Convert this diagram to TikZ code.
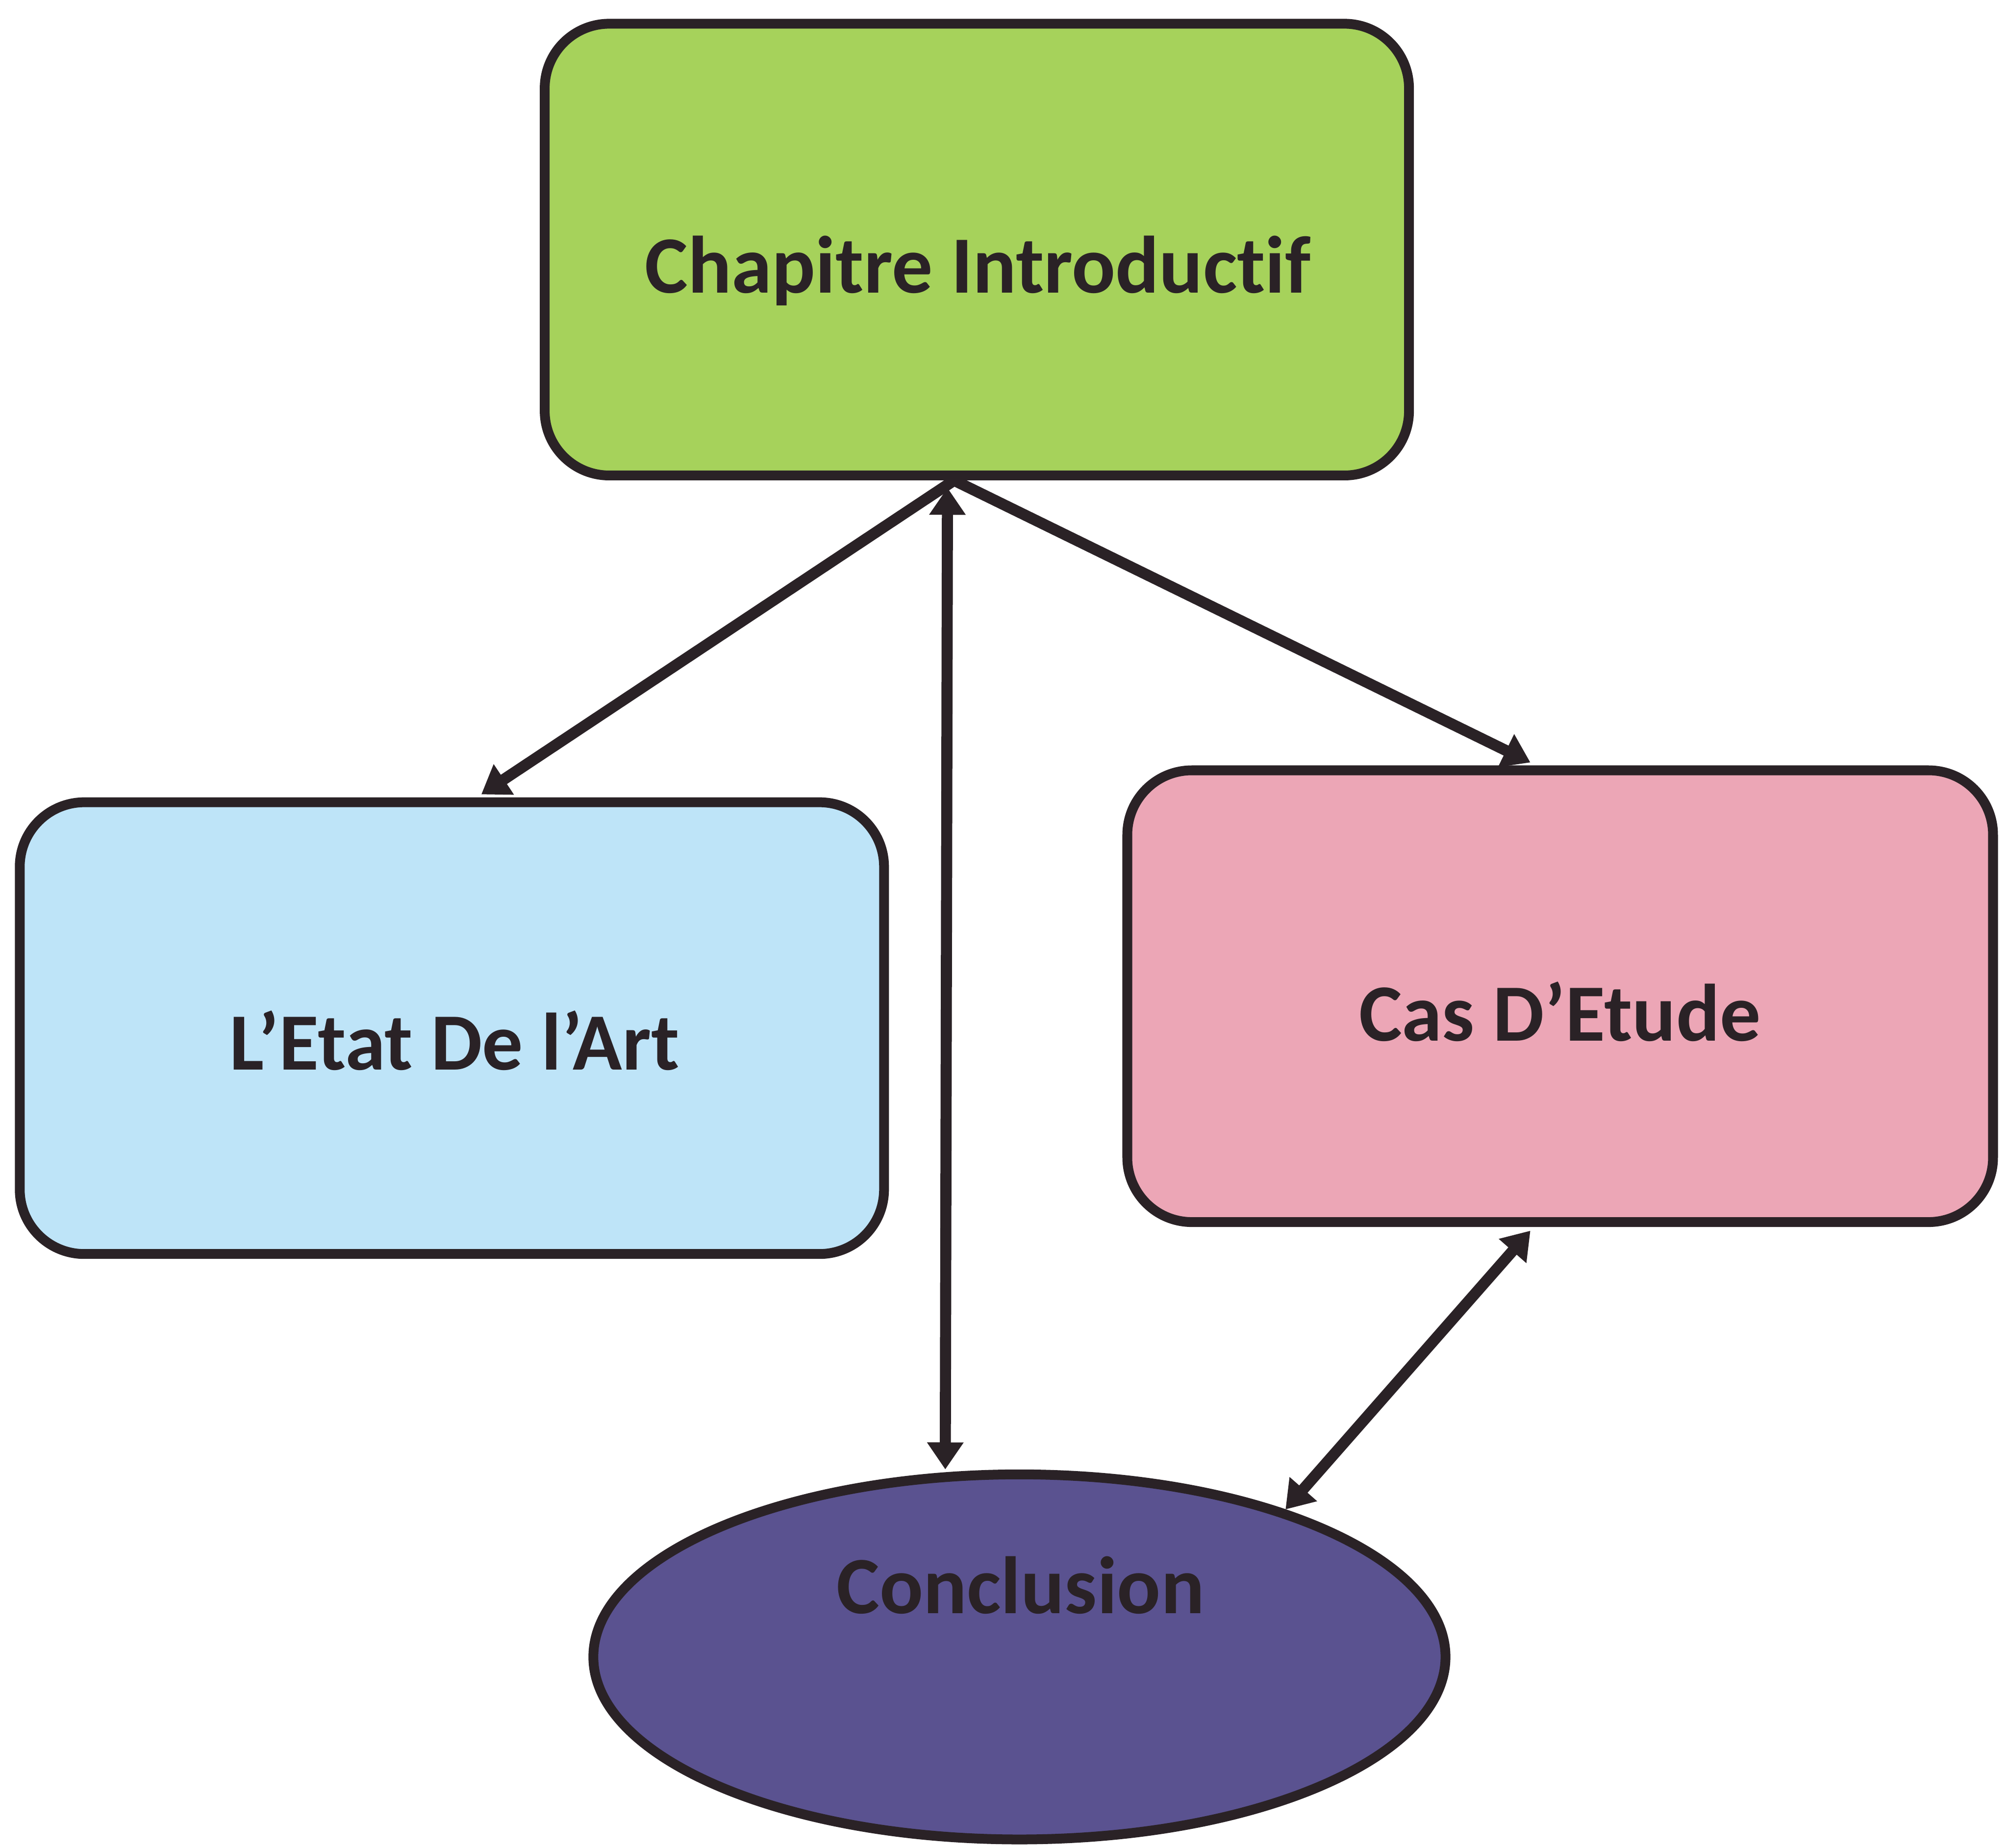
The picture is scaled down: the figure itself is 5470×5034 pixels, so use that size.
\documentclass[tikz,border=0pt]{standalone}
\usepackage{fontspec}
\setmainfont{Carlito}[Ligatures={NoCommon}]
\usetikzlibrary{shapes.geometric,arrows.meta,calc}
\pgfdeclarelayer{canvasbg}
\pgfdeclarelayer{background}
\pgfsetlayers{canvasbg,background,main}
\definecolor{cgreen}{HTML}{A6D25B}
\definecolor{cblue}{HTML}{BEE4F8}
\definecolor{cpink}{HTML}{ECA6B6}
\definecolor{cpurple}{HTML}{5A5290}
\definecolor{cline}{HTML}{2A2226}
\begin{document}
\begin{tikzpicture}[x=0.01cm,y=-0.01cm,
  box/.style={draw=cline, line width=7.6pt, rounded corners=50pt, inner sep=0pt},
  lbl/.style={font=\fontsize{63}{70}\selectfont\bfseries, text=cline, inner sep=0pt, anchor=base},
  conn/.style={draw=cline, line width=8.6pt, -{Triangle[length=21pt,width=27pt]}},
  dconn/.style={draw=cline, line width=8.6pt, {Triangle[length=21pt,width=27pt]}-{Triangle[length=21pt,width=27pt]}}]
\begin{pgfonlayer}{canvasbg}
\fill[white] (0,0) rectangle (5470,5034);
\end{pgfonlayer}
\useasboundingbox (0,0) rectangle (5470,5034);
% shapes
\node[box, fill=cgreen, minimum width=23.53cm, minimum height=12.30cm] (intro) at (2661,680) {};
\node[box, fill=cblue, minimum width=23.53cm, minimum height=12.30cm] (art) at (1231,2801) {};
\node[box, fill=cpink, minimum width=23.57cm, minimum height=12.30cm] (cas) at (4250,2714) {};
\node[ellipse, draw=cline, line width=7.6pt, fill=cpurple, inner sep=0pt, minimum width=23.2cm, minimum height=9.94cm] (concl) at (2777,4514) {};
% labels
\node[lbl] (introtxt) at (2664,798) {Chapitre Introductif};
\node[lbl] (arttxt) at (1238,2915) {L’Etat De l’Art};
\node[lbl] (castxt) at (4249,2836) {Cas D’Etude};
\node[lbl] (concltxt) at (2780,4396) {Conclusion};
% connectors
\begin{pgfonlayer}{background}
\draw[conn] ($(intro.south)+(-62,0)$) -- ($(art.north)+(80,-8)$);
\draw[conn] ($(intro.south)+(-62,0)$) -- ($(cas.north)+(-81,-8)$);
\draw[dconn] ($(intro.south)+(-80,20)$) -- ($(concl.north)+(-202,0)$);
\draw[dconn] ($(cas.south)+(-81,10)$) -- (concl.29);
\end{pgfonlayer}
\end{tikzpicture}
\end{document}
